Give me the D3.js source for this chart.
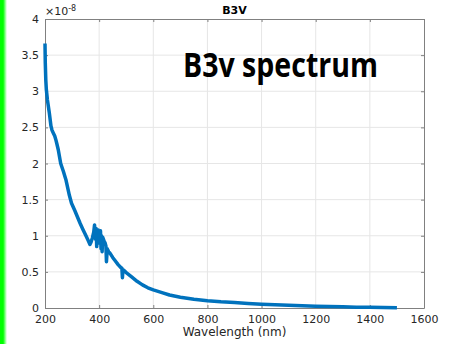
<!DOCTYPE html>
<html>
<head>
<meta charset="utf-8">
<script src="https://cdn.jsdelivr.net/npm/d3@7"></script>
<style>
  html, body { margin: 0; padding: 0; background: #fff; }
  svg { display: block; }
</style>
</head>
<body>
<div id="chart"></div>
<script>
// B3V spectrum, values in units of 1e-8
const wavelength = [200, 201, 203, 205, 209, 216, 222, 226, 231, 236, 240, 244, 249, 258, 268, 277, 290, 298, 310, 320, 330, 341, 350, 360, 366, 370, 375, 380, 383, 385, 387, 389, 391, 393, 395, 397, 399, 401, 403, 405, 407, 409, 411, 413, 416, 419, 422, 425, 427, 430, 432, 435, 440, 450, 460, 470, 480, 484, 486, 488, 492, 500, 520, 540, 560, 580, 600, 635, 660, 700, 750, 800, 850, 900, 950, 1000, 1050, 1100, 1150, 1200, 1250, 1300, 1350, 1400, 1450, 1500];
const flux = [3.66, 3.4, 3.15, 3.02, 2.88, 2.70, 2.52, 2.46, 2.42, 2.38, 2.33, 2.27, 2.19, 2.0, 1.89, 1.78, 1.56, 1.45, 1.35, 1.26, 1.17, 1.08, 1.01, 0.93, 0.88, 0.91, 0.97, 1.05, 1.15, 1.05, 0.95, 1.1, 0.85, 1.05, 0.95, 1.08, 0.9, 1.05, 0.98, 1.07, 0.82, 1.0, 0.78, 0.98, 0.95, 0.92, 0.9, 0.86, 0.64, 0.82, 0.80, 0.78, 0.76, 0.70, 0.65, 0.60, 0.56, 0.55, 0.42, 0.53, 0.52, 0.49, 0.43, 0.37, 0.32, 0.28, 0.25, 0.21, 0.18, 0.15, 0.12, 0.1, 0.085, 0.075, 0.063, 0.053, 0.045, 0.038, 0.031, 0.025, 0.02, 0.016, 0.012, 0.01, 0.007, 0.005];
const xTicks = [200, 400, 600, 800, 1000, 1200, 1400, 1600];
const yTicks = [0, 0.5, 1, 1.5, 2, 2.5, 3, 3.5, 4];

const width = 452, height = 344;
const margin = { top: 19, right: 28, bottom: 36, left: 45 };
const iw = width - margin.left - margin.right;
const ih = height - margin.top - margin.bottom;

const svg = d3.select('#chart').append('svg')
  .attr('width', width)
  .attr('height', height);

// green strip at the left edge
const grad = svg.append('defs').append('linearGradient')
  .attr('id', 'edge').attr('x1', 0).attr('x2', 1);
grad.append('stop').attr('offset', 0).attr('stop-color', '#00ff00');
grad.append('stop').attr('offset', 0.45).attr('stop-color', '#00ff00');
grad.append('stop').attr('offset', 1).attr('stop-color', '#ffffff');
svg.append('rect').attr('x', 0).attr('y', 0).attr('width', 7).attr('height', height)
  .attr('fill', 'url(#edge)');

const x = d3.scaleLinear().domain([200, 1600]).range([0, iw]);
const y = d3.scaleLinear().domain([0, 4]).range([ih, 0]);

const g = svg.append('g').attr('transform', `translate(${margin.left},${margin.top})`);

// grid
g.append('g').selectAll('line').data(xTicks.slice(1, -1)).enter().append('line')
  .attr('x1', d => x(d)).attr('x2', d => x(d)).attr('y1', 0).attr('y2', ih)
  .attr('stroke', '#e6e6e6');
g.append('g').selectAll('line').data(yTicks.slice(1, -1)).enter().append('line')
  .attr('y1', d => y(d)).attr('y2', d => y(d)).attr('x1', 0).attr('x2', iw)
  .attr('stroke', '#e6e6e6');

const font = 'DejaVu Sans, sans-serif';

// axes
g.append('g').attr('transform', `translate(0,${ih})`)
  .call(d3.axisBottom(x).tickValues(xTicks).tickFormat(d3.format('d')).tickSizeInner(-3).tickSizeOuter(0).tickPadding(7));
g.append('g')
  .call(d3.axisLeft(y).tickValues(yTicks).tickFormat(d3.format('~g')).tickSizeInner(-3).tickSizeOuter(0).tickPadding(6));
g.append('g').attr('transform', `translate(${iw},0)`)
  .call(d3.axisRight(y).tickValues(yTicks).tickFormat('').tickSizeInner(-3).tickSizeOuter(0));
g.append('g')
  .call(d3.axisTop(x).tickValues(xTicks).tickFormat('').tickSizeInner(-3).tickSizeOuter(0));

g.selectAll('.domain, .tick line').attr('stroke', '#808080');
g.selectAll('.tick text').attr('fill', '#262626').style('font-family', font).style('font-size', '11px');

// spectrum
const line = d3.line().x((d, i) => x(wavelength[i])).y(d => y(d));
g.append('path').datum(flux)
  .attr('d', line)
  .attr('fill', 'none')
  .attr('stroke', '#0072BD')
  .attr('stroke-width', 3.5)
  .attr('stroke-linejoin', 'round');

// exponent label
const ex = svg.append('text').attr('x', margin.left).attr('y', 15)
  .attr('fill', '#262626').style('font-family', font).style('font-size', '11px');
ex.append('tspan').text('×10');
ex.append('tspan').attr('dy', -4).style('font-size', '8px').text('-8');

// title
svg.append('text').attr('x', margin.left + iw / 2).attr('y', 14)
  .attr('text-anchor', 'middle').attr('font-weight', 'bold')
  .style('font-family', font).style('font-size', '11px').attr('fill', '#000')
  .text('B3V');

// x label
svg.append('text').attr('x', margin.left + iw / 2).attr('y', 336)
  .attr('text-anchor', 'middle').attr('fill', '#262626')
  .style('font-family', font).style('font-size', '12px')
  .text('Wavelength (nm)');

// annotation
svg.append('text').attr('x', 183).attr('y', 77)
  .attr('font-weight', 'bold').attr('fill', '#000')
  .attr('textLength', 195).attr('lengthAdjust', 'spacingAndGlyphs')
  .style('font-family', 'Open Sans, sans-serif').style('font-size', '34px')
  .text('B3v spectrum');
</script>
</body>
</html>
